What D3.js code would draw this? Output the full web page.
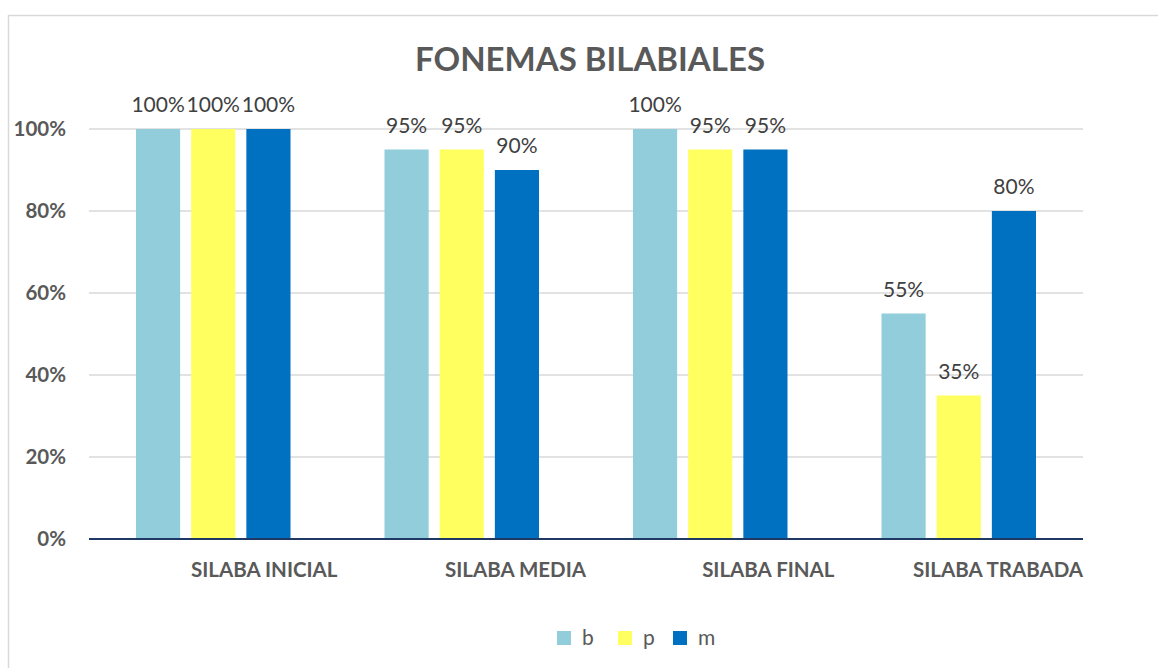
<!DOCTYPE html>
<html>
<head>
<meta charset="utf-8">
<script src="https://cdn.jsdelivr.net/npm/d3@7"></script>
<style>
  body { margin: 0; background: #fff; }
  svg { display: block; font-family: Lato, "Open Sans", sans-serif; }
</style>
</head>
<body>
<svg id="chart" width="1158" height="668"></svg>
<script>
// chart data
const categories = ["SILABA INICIAL", "SILABA MEDIA", "SILABA FINAL", "SILABA TRABADA"];
const seriesNames = ["b", "p", "m"];
const bValues = [1.00, 0.95, 1.00, 0.55];
const pValues = [1.00, 0.95, 0.95, 0.35];
const mValues = [1.00, 0.90, 0.95, 0.80];
const yTicks = [0, 0.2, 0.4, 0.6, 0.8, 1.0];
const colors = ["#92CDDC", "#FFFF5F", "#0070C0"];

const svg = d3.select("#chart");
const margin = { top: 129, right: 75, bottom: 129, left: 89 };
const width = 1158 - margin.left - margin.right;
const height = 668 - margin.top - margin.bottom;

// outer frame
svg.append("rect")
  .attr("x", 8.5).attr("y", 15.5)
  .attr("width", 1200).attr("height", 700)
  .attr("fill", "none").attr("stroke", "#d9d9d9").attr("stroke-width", 1.5);

// title
svg.append("text")
  .attr("x", 590).attr("y", 71)
  .attr("text-anchor", "middle")
  .style("font-size", "33px").style("font-weight", "bold")
  .style("fill", "#595959")
  .text("FONEMAS BILABIALES");

const g = svg.append("g").attr("transform", `translate(${margin.left},${margin.top})`);

const x = d3.scaleBand().domain(categories).range([0, width]);
const xSub = d3.scaleBand().domain(seriesNames).range([47, x.bandwidth() - 47]).paddingInner(0.2);
const y = d3.scaleLinear().domain([0, 1]).range([height, 0]);

// gridlines
g.selectAll(".grid")
  .data(yTicks.filter(d => d > 0))
  .enter().append("line")
  .attr("x1", 0).attr("x2", width)
  .attr("y1", d => y(d)).attr("y2", d => y(d))
  .attr("stroke", "#d9d9d9").attr("stroke-width", 1.5);

// y axis labels
const yAxis = g.append("g")
  .call(d3.axisLeft(y).tickValues(yTicks).tickFormat(d3.format(".0%")).tickSize(0).tickPadding(23));
yAxis.select(".domain").remove();
yAxis.selectAll("text")
  .style("font-family", "Lato, sans-serif")
  .style("font-size", "20.5px").style("font-weight", "bold")
  .style("fill", "#595959");

// bars
const rows = categories.map((c, i) => ({
  cat: c,
  vals: [bValues[i], pValues[i], mValues[i]].map((v, k) => ({ key: seriesNames[k], v, color: colors[k] }))
}));

const groups = g.selectAll(".grp")
  .data(rows)
  .enter().append("g")
  .attr("transform", d => `translate(${x(d.cat)},0)`);

groups.selectAll("rect")
  .data(d => d.vals)
  .enter().append("rect")
  .attr("x", d => xSub(d.key))
  .attr("width", xSub.bandwidth())
  .attr("y", d => y(d.v))
  .attr("height", d => height - y(d.v))
  .attr("fill", d => d.color);

groups.selectAll(".lbl")
  .data(d => d.vals)
  .enter().append("text")
  .attr("x", d => xSub(d.key) + xSub.bandwidth() / 2)
  .attr("y", d => y(d.v) - 17)
  .attr("text-anchor", "middle")
  .style("font-size", "21px")
  .style("fill", "#404040")
  .text(d => d3.format(".0%")(d.v));

// baseline
g.append("line")
  .attr("x1", 0).attr("x2", width)
  .attr("y1", height).attr("y2", height)
  .attr("stroke", "#1F3864").attr("stroke-width", 2);

// category labels (right aligned to band end)
g.selectAll(".cat")
  .data(categories)
  .enter().append("text")
  .attr("x", d => x(d) + x.bandwidth())
  .attr("y", height + 38)
  .attr("text-anchor", "end")
  .style("font-size", "20.5px").style("font-weight", "bold")
  .style("fill", "#595959")
  .text(d => d);

// legend
const legendX = [557, 618, 673];
const legend = svg.append("g");
seriesNames.forEach((s, i) => {
  legend.append("rect")
    .attr("x", legendX[i]).attr("y", 631)
    .attr("width", 14).attr("height", 14)
    .attr("fill", colors[i]);
  legend.append("text")
    .attr("x", legendX[i] + 25).attr("y", 645)
    .style("font-size", "21px").style("fill", "#595959")
    .text(s);
});
</script>
</body>
</html>
